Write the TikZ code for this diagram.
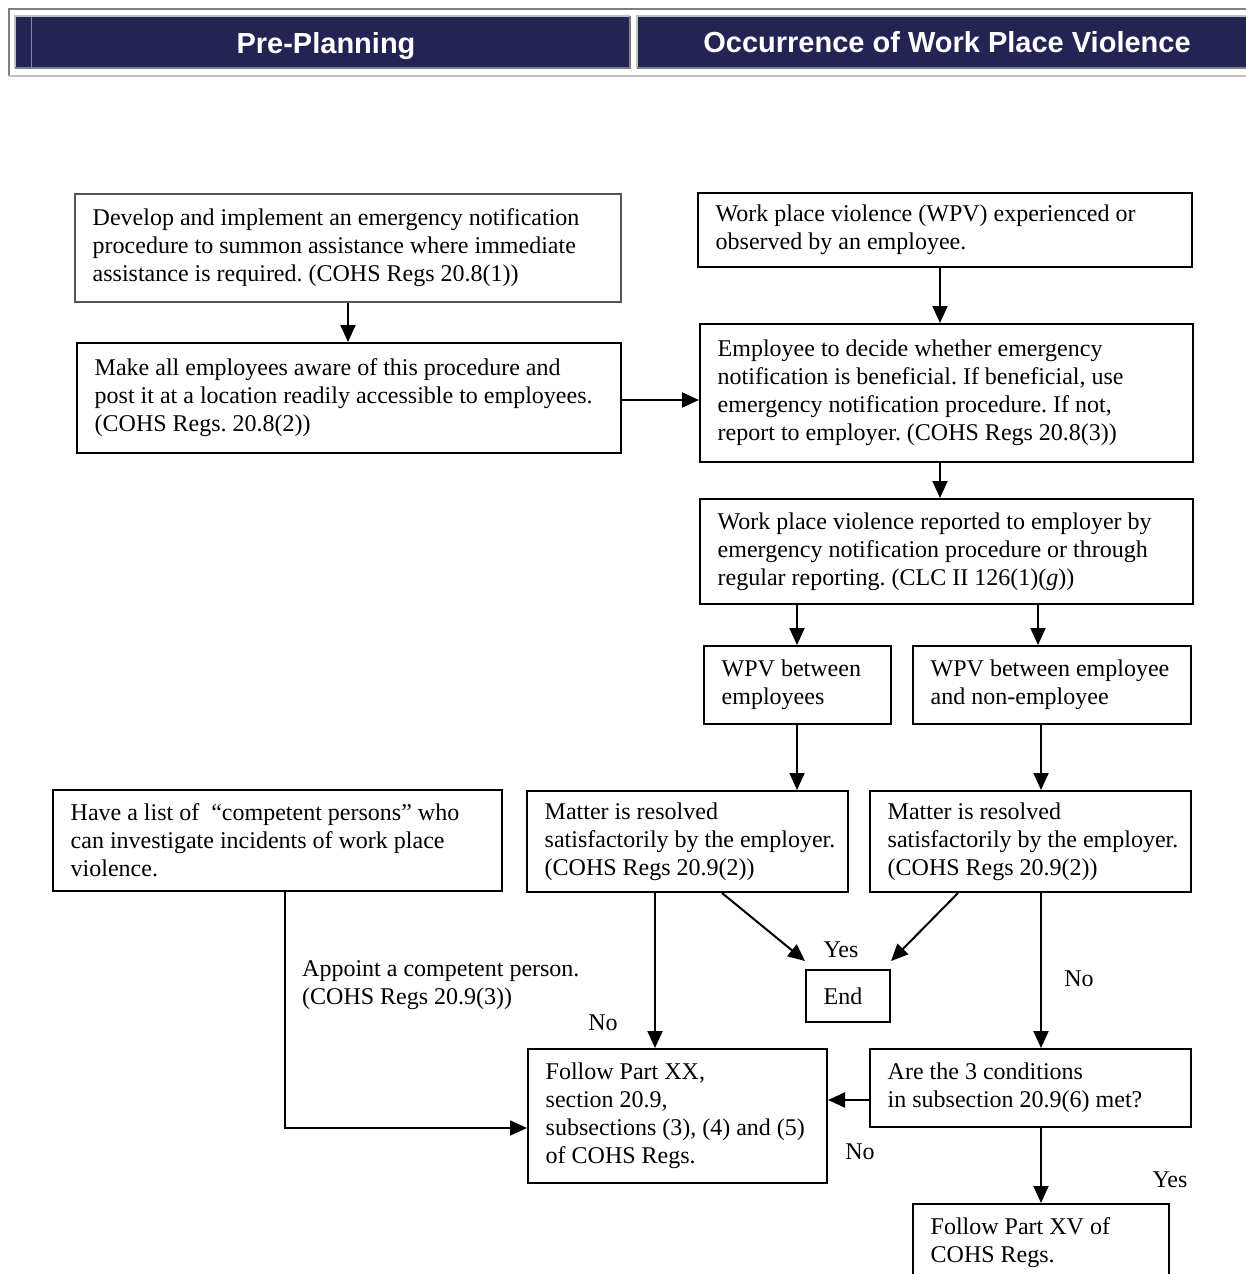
\documentclass[tikz,border=0pt]{standalone}
\usepackage{fontspec}
\setmainfont{Liberation Serif}
\newfontfamily\hdrfont{Liberation Sans}
\usetikzlibrary{arrows.meta,calc}
\frenchspacing
\definecolor{navy}{HTML}{232453}
\definecolor{frdark}{HTML}{808080}
\definecolor{frlight}{HTML}{C0C0C0}
\definecolor{boxgray}{HTML}{555555}
\newcommand{\bx}[7][black]{%
  \node[box,draw=#1,minimum width={(#5-#3)*1pt},minimum height={(#6-#4)*1pt},anchor=north west] (#2) at (#3,#4) {};
  \node[txt,anchor=west] (#2-t) at ([xshift=18.5pt]#2.west) {#7};
}
\begin{document}
\begin{tikzpicture}[x=1pt,y=-1pt,
  box/.style={line width=2pt,inner sep=0pt},
  txt/.style={inner sep=0pt,align=left,font=\fontsize{24}{28}\selectfont},
  lab/.style={inner sep=0pt,font=\fontsize{24}{28}\selectfont},
  hdr/.style={inner sep=0pt,text=white,anchor=base,font=\hdrfont\bfseries\fontsize{29}{34}\selectfont},
  arr/.style={line width=2pt,-{Triangle[length=17pt,width=15pt]}}]
\useasboundingbox (0,0) rectangle (1246,1274);
\fill[white] (0,0) rectangle (1246,1274);
% header frame
\draw[frdark,line width=2pt] (8.5,76) -- (8.5,8.5) -- (1246,8.5);
\draw[frlight,line width=2pt] (8.5,75.5) -- (1246,75.5);
% left panel
\fill[navy] (15,16) rectangle (630,68);
\draw[frlight,line width=2pt] (15,68) -- (15,16) -- (630,16);
\draw[frdark,line width=2pt] (15,67.5) -- (630,67.5) -- (630,16);
\draw[navy!55!white,line width=1pt] (31,17) -- (31,67);
% right panel
\fill[navy] (636,16) rectangle (1246,68);
\draw[frlight,line width=2pt] (637,68) -- (637,16) -- (1246,16);
\draw[frdark,line width=2pt] (637,67.5) -- (1246,67.5);
\node[hdr] (h1) at (326,53) {Pre-Planning};
\node[hdr] (h2) at (947,52.5) {Occurrence of Work Place Violence};
% coordinates for connector positions
\coordinate (X940) at (940,0);
\coordinate (X797) at (797,0);
\coordinate (X1038) at (1038,0);
\coordinate (X1041) at (1041,0);
\coordinate (X655) at (655,0);
\coordinate (X722) at (722,0);
\coordinate (X958) at (958,0);
\coordinate (Y1100) at (0,1100);
% boxes
\bx[boxgray]{b1}{74}{193}{620}{301}{Develop and implement an emergency notification\\procedure to summon assistance where immediate\\assistance is required. (COHS Regs 20.8(1))}
\bx{b2}{76}{342}{620}{452}{Make all employees aware of this procedure and\\post it at a location readily accessible to employees.\\(COHS Regs. 20.8(2))}
\bx{b3}{697}{192}{1191}{266}{Work place violence (WPV) experienced or\\observed by an employee.}
\bx{b4}{699}{323}{1192}{461}{Employee to decide whether emergency\\notification is beneficial. If beneficial, use\\emergency notification procedure. If not,\\report to employer. (COHS Regs 20.8(3))}
\bx{b5}{699}{498}{1192}{603}{Work place violence reported to employer by\\emergency notification procedure or through\\regular reporting. (CLC II 126(1)(\textit{g}))}
\bx{b6}{703}{645}{890}{723}{WPV between\\employees}
\bx{b7}{912}{645}{1190}{723}{WPV between employee\\and non-employee}
\bx{b8}{52}{789}{501}{890}{Have a list of \ “competent persons” who\\can investigate incidents of work place\\violence.}
\bx{b9}{526}{790}{847}{891}{Matter is resolved\\satisfactorily by the employer.\\(COHS Regs 20.9(2))}
\bx{b10}{869}{790}{1190}{891}{Matter is resolved\\satisfactorily by the employer.\\(COHS Regs 20.9(2))}
\bx{b11}{805}{969}{889}{1021}{End}
\bx{b12}{527}{1048}{826}{1182}{Follow Part XX,\\section 20.9,\\subsections (3), (4) and (5)\\of COHS Regs.}
\bx{b13}{869}{1048}{1190}{1126}{Are the 3 conditions\\in subsection 20.9(6) met?}
\bx{b14}{912}{1203}{1168}{1280}{Follow Part XV of\\COHS Regs.}
% end arrow targets
\coordinate (endL) at (805,961);
\coordinate (endR) at (891,961);
\coordinate (elbow) at (285,1128);
% connectors
\draw[arr] (b1.south) -- (b1.south |- b2.north);
\draw[arr] (b2.east |- 0,400) -- (b4.west |- 0,400);
\draw[arr] (b3.south -| X940) -- (b4.north -| X940);
\draw[arr] (b4.south -| X940) -- (b5.north -| X940);
\draw[arr] (b5.south -| X797) -- (b6.north -| X797);
\draw[arr] (b5.south -| X1038) -- (b7.north -| X1038);
\draw[arr] (b6.south -| X797) -- (b9.north -| X797);
\draw[arr] (b7.south -| X1041) -- (b10.north -| X1041);
\draw[arr] (b9.south -| X655) -- (b12.north -| X655);
\draw[arr] (b9.south -| X722) -- (endL);
\draw[arr] (b10.south -| X958) -- (endR);
\draw[arr] (b10.south -| X1041) -- (b13.north -| X1041);
\draw[arr] (b13.west |- Y1100) -- (b12.east |- Y1100);
\draw[arr] (b13.south -| X1041) -- (b14.north -| X1041);
\draw[arr,line width=1.7pt] (b8.south -| elbow) -- (elbow) -- (b12.west |- elbow);
% labels
\node[lab] (yes1) at (841,950) {Yes};
\node[lab] (no1) at (603,1023) {No};
\node[lab] (no2) at (1079,979) {No};
\node[lab] (no3) at (860,1152) {No};
\node[lab] (yes2) at (1170,1180) {Yes};
\node[txt,anchor=west] (appoint) at (302,985) {Appoint a competent person.\\(COHS Regs 20.9(3))};
\end{tikzpicture}
\end{document}
